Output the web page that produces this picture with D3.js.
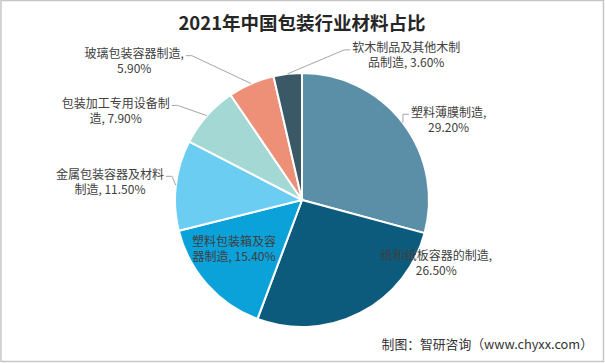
<!DOCTYPE html>
<html>
<head>
<meta charset="utf-8">
<script src="https://cdn.jsdelivr.net/npm/d3@7"></script>
<style>
  body { margin: 0; background: #fff; }
  #chart { width: 605px; height: 363px; }
  text { font-family: "Noto Sans CJK SC", "Noto Sans", sans-serif; }
</style>
</head>
<body>
<div id="chart"></div>
<script>
// data
const categories = ['塑料薄膜制造', '纸和纸板容器的制造', '塑料包装箱及容器制造', '金属包装容器及材料制造',
    '包装加工专用设备制造', '玻璃包装容器制造', '软木制品及其他木制品制造'];
const shares = [29.2, 26.5, 15.4, 11.5, 7.9, 5.9, 3.6];
// how each label wraps (characters on the first line)
const firstLineChars = [7, 10, 7, 9, 9, 9, 9];

const colors = ['#5b8fa8', '#0c5b7c', '#0ba1d9', '#6ccdf3', '#a3d8d5', '#ee8f78', '#3b5866'];

// label placement: [angle in degrees clockwise from top, distance in radii]
const labelPlaces = [[61, 1.32], [114.8, 1.165], [234.8, 0.655], [275.7, 1.52],
    [295.8, 1.63], [309.8, 1.72], [35.6, 1.41]];

const width = 605, height = 363;
const cx = 302, cy = 200, radius = 127;

const svg = d3.select('#chart').append('svg')
    .attr('width', width)
    .attr('height', height);

// frame
svg.append('rect')
    .attr('x', 1).attr('y', 0.5)
    .attr('width', width - 2.5).attr('height', height - 2)
    .attr('fill', 'none')
    .attr('stroke', '#c6c6c6')
    .attr('stroke-width', 1.5);

// title
svg.append('text')
    .attr('x', 302)
    .attr('y', 22)
    .attr('text-anchor', 'middle')
    .attr('dominant-baseline', 'central')
    .attr('font-size', 18.5)
    .attr('font-weight', 'bold')
    .attr('fill', '#262626')
    .text('2021年中国包装行业材料占比');

const pieData = d3.pie().sort(null).value(d => d)(shares);
const arc = d3.arc().innerRadius(0).outerRadius(radius);

const chart = svg.append('g')
    .attr('transform', `translate(${cx},${cy})`);

chart.selectAll('.slice')
    .data(pieData)
    .join('path')
    .attr('class', 'slice')
    .attr('d', arc)
    .attr('fill', (d, i) => colors[i])
    .attr('stroke', '#fff')
    .attr('stroke-width', 2);

const polar = (a, r) => [r * Math.sin(a), -r * Math.cos(a)];
const lineGap = 15;

pieData.forEach((d, i) => {
    const name = categories[i];
    const full = name + ', ' + shares[i].toFixed(2) + '%';
    const k = firstLineChars[i];
    const lines = [full.slice(0, k), full.slice(k).trim()];
    const [ang, f] = labelPlaces[i];
    const [lx, ly] = polar(ang * Math.PI / 180, f * radius);

    const spans = lines.map((t, j) => chart.append('text')
        .attr('text-anchor', 'middle')
        .attr('font-size', 12)
        .attr('fill', '#404040')
        .attr('x', lx)
        .attr('y', ly + (j - 0.5) * lineGap)
        .attr('dominant-baseline', 'central')
        .text(t));

    // leader line for labels that sit outside the pie
    if (f > 1.25) {
        const w = spans[0].node().getComputedTextLength();
        const mid = (d.startAngle + d.endAngle) / 2;
        const [px, py] = polar(mid, radius);
        const left = lx < 0;
        const sx = left ? lx + w / 2 + 2 : lx - w / 2 - 2;
        const sy = ly - 0.5 * lineGap + 3;
        const hx = left ? sx + 6 : sx - 6;
        chart.append('polyline')
            .attr('points', [[sx, sy], [hx, sy], [px, py]].map(p => p.join(',')).join(' '))
            .attr('fill', 'none')
            .attr('stroke', '#a6a6a6')
            .attr('stroke-width', 1);
    }
});

// source note
svg.append('text')
    .attr('x', 593)
    .attr('y', 343)
    .attr('text-anchor', 'end')
    .attr('dominant-baseline', 'central')
    .attr('font-size', 12.8)
    .attr('fill', '#333')
    .text('制图：智研咨询（www.chyxx.com）');
</script>
</body>
</html>
